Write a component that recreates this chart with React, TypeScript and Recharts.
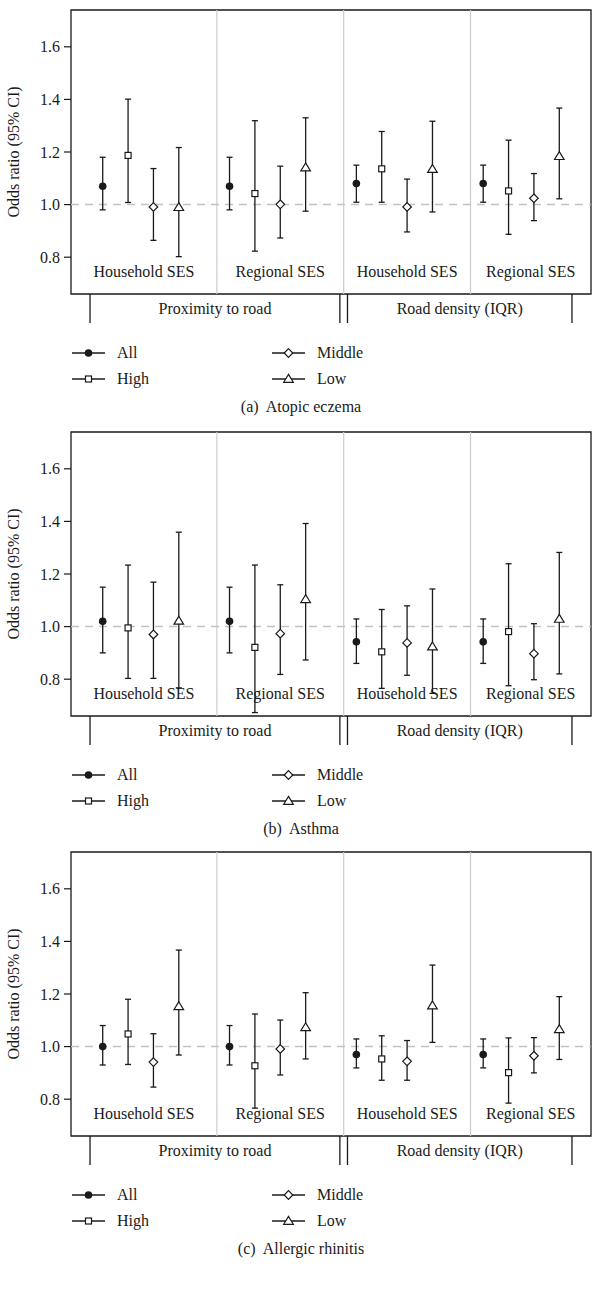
import React from "react";
import {
  ComposedChart,
  Scatter,
  ErrorBar,
  XAxis,
  YAxis,
  ReferenceLine,
  ReferenceArea,
} from "recharts";

const FONT = "'Liberation Serif', 'DejaVu Serif', serif";
const INK = "#1a1a1a";

const seriesNames = ["All", "High", "Middle", "Low"];
const groupLabels = ["Household SES", "Regional SES", "Household SES", "Regional SES"];
const exposureLabels = ["Proximity to road", "Road density (IQR)"];
const yTicks = [0.8, 1.0, 1.2, 1.4, 1.6];
const captions = ["(a)  Atopic eczema", "(b)  Asthma", "(c)  Allergic rhinitis"];

// values ordered group by group, series All / High / Middle / Low inside each group
const eczemaOR = [1.07, 1.187, 0.991, 0.99, 1.07, 1.042, 1.001, 1.141, 1.08, 1.136, 0.991, 1.135, 1.08, 1.052, 1.024, 1.184];
const eczemaLower = [0.98, 1.008, 0.864, 0.802, 0.98, 0.823, 0.873, 0.975, 1.009, 1.009, 0.896, 0.972, 1.009, 0.887, 0.939, 1.022];
const eczemaUpper = [1.18, 1.401, 1.137, 1.217, 1.18, 1.319, 1.146, 1.33, 1.15, 1.278, 1.097, 1.317, 1.15, 1.245, 1.118, 1.367];

const asthmaOR = [1.02, 0.995, 0.97, 1.022, 1.02, 0.921, 0.973, 1.104, 0.942, 0.904, 0.938, 0.924, 0.942, 0.981, 0.897, 1.029];
const asthmaLower = [0.9, 0.803, 0.803, 0.767, 0.9, 0.673, 0.818, 0.873, 0.86, 0.765, 0.815, 0.746, 0.86, 0.775, 0.798, 0.82];
const asthmaUpper = [1.15, 1.234, 1.169, 1.359, 1.15, 1.234, 1.159, 1.392, 1.029, 1.065, 1.079, 1.143, 1.029, 1.239, 1.011, 1.282];

const rhinitisOR = [1.0, 1.048, 0.941, 1.153, 1.0, 0.927, 0.991, 1.073, 0.97, 0.953, 0.944, 1.156, 0.97, 0.901, 0.965, 1.066];
const rhinitisLower = [0.93, 0.932, 0.846, 0.968, 0.93, 0.766, 0.892, 0.953, 0.919, 0.872, 0.872, 1.016, 0.919, 0.785, 0.9, 0.951];
const rhinitisUpper = [1.08, 1.18, 1.049, 1.367, 1.08, 1.124, 1.101, 1.205, 1.029, 1.041, 1.023, 1.31, 1.029, 1.033, 1.034, 1.19];

const panelData = [
  [eczemaOR, eczemaLower, eczemaUpper],
  [asthmaOR, asthmaLower, asthmaUpper],
  [rhinitisOR, rhinitisLower, rhinitisUpper],
];

// layout
const panelTops = [0, 422, 842];
const X_DOMAIN: [number, number] = [-0.25, 20.25];
const Y_DOMAIN: [number, number] = [0.66, 1.74];
const separators = [5.5, 10.5, 15.5];
const bracketTicks = [0.5, 10.35, 10.65, 19.5];
const exposureTicks = [(bracketTicks[0] + bracketTicks[1]) / 2, (bracketTicks[2] + bracketTicks[3]) / 2];

function buildSeries(or: number[], lower: number[], upper: number[]) {
  return seriesNames.map((name, s) => ({
    name,
    data: groupLabels.map((_, g) => {
      const i = g * 4 + s;
      return { x: g * 5 + s + 1, y: or[i], err: [or[i] - lower[i], upper[i] - or[i]] };
    }),
  }));
}

function Marker({ kind, cx, cy }: { kind: string; cx: number; cy: number }) {
  if (kind === "All") return <circle cx={cx} cy={cy} r={3.8} fill={INK} />;
  if (kind === "High")
    return <rect x={cx - 3} y={cy - 3} width={6} height={6} fill="#fff" stroke={INK} strokeWidth={1.2} />;
  if (kind === "Middle")
    return (
      <polygon
        points={`${cx},${cy - 4.3} ${cx + 4.3},${cy} ${cx},${cy + 4.3} ${cx - 4.3},${cy}`}
        fill="#fff"
        stroke={INK}
        strokeWidth={1.2}
      />
    );
  return (
    <polygon
      points={`${cx},${cy - 4.6} ${cx + 4.8},${cy + 3.3} ${cx - 4.8},${cy + 3.3}`}
      fill="#fff"
      stroke={INK}
      strokeWidth={1.2}
    />
  );
}

const renderBottomTick = (props: any) => {
  const { x, y, payload } = props;
  const v = payload.value;
  if (bracketTicks.includes(v)) {
    return <line x1={x} x2={x} y1={y} y2={y + 29} stroke={INK} strokeWidth={1.3} />;
  }
  const li = exposureTicks.indexOf(v);
  return (
    <text x={x} y={y + 16} textAnchor="middle" dominantBaseline="middle" fill={INK} fontSize={16} fontFamily={FONT}>
      {exposureLabels[li]}
    </text>
  );
};

function Panel({ index }: { index: number }) {
  const [or, lower, upper] = panelData[index];
  const series = buildSeries(or, lower, upper);
  const sections = [X_DOMAIN[0], ...separators, X_DOMAIN[1]];

  return (
    <div style={{ position: "absolute", left: 0, top: panelTops[index], width: 602, height: 420 }}>
      <ComposedChart width={602} height={330} margin={{ top: 10, right: 11, bottom: 0, left: 0 }}>
        <XAxis
          type="number"
          dataKey="x"
          domain={X_DOMAIN}
          allowDataOverflow
          ticks={[...bracketTicks, ...exposureTicks].sort((a, b) => a - b)}
          interval={0}
          height={36}
          axisLine={false}
          tickLine={false}
          tickSize={0}
          tickMargin={0}
          tick={renderBottomTick}
        />
        <YAxis
          type="number"
          dataKey="y"
          domain={Y_DOMAIN}
          allowDataOverflow
          ticks={yTicks}
          interval={0}
          tickFormatter={(v: number) => v.toFixed(1)}
          width={71}
          tickSize={7}
          tickMargin={4}
          axisLine={false}
          tickLine={{ stroke: INK, strokeWidth: 1.2 }}
          tick={{ fill: INK, fontSize: 16, fontFamily: FONT }}
          label={{
            value: "Odds ratio (95% CI)",
            angle: -90,
            position: "insideLeft",
            offset: 13,
            style: { textAnchor: "middle", fill: INK, fontSize: 16, fontFamily: FONT },
          }}
        />
        {separators.map((s) => (
          <ReferenceLine key={s} x={s} stroke="#cccccc" strokeWidth={1.2} />
        ))}
        <ReferenceLine y={1} stroke="#c2c2c2" strokeWidth={1.5} strokeDasharray="8 6" />
        {groupLabels.map((label, g) => (
          <ReferenceArea
            key={g}
            x1={sections[g]}
            x2={sections[g + 1]}
            y1={Y_DOMAIN[0]}
            y2={0.83}
            fill="none"
            stroke="none"
            label={{ value: label, position: "center", fill: INK, fontSize: 16, fontFamily: FONT }}
          />
        ))}
        <ReferenceArea
          x1={X_DOMAIN[0]}
          x2={X_DOMAIN[1]}
          y1={Y_DOMAIN[0]}
          y2={Y_DOMAIN[1]}
          fill="none"
          stroke={INK}
          strokeWidth={1.3}
        />
        {series.map((s) => (
          <Scatter
            key={s.name}
            name={s.name}
            data={s.data}
            isAnimationActive={false}
            shape={(p: any) => <Marker kind={s.name} cx={p.cx} cy={p.cy} />}
          >
            <ErrorBar dataKey="err" direction="y" width={3} stroke={INK} strokeWidth={1.3} />
          </Scatter>
        ))}
      </ComposedChart>
      {seriesNames.map((name, i) => {
        const col = Math.floor(i / 2);
        const row = i % 2;
        return (
          <div
            key={name}
            style={{
              position: "absolute",
              left: [72, 272][col],
              top: [353, 379][row] - 10,
              height: 20,
              display: "flex",
              alignItems: "center",
              fontFamily: FONT,
              fontSize: 16,
              color: INK,
            }}
          >
            <svg width={34} height={20}>
              <line x1={0} x2={33} y1={10} y2={10} stroke={INK} strokeWidth={1.3} />
              <Marker kind={name} cx={16.5} cy={10} />
            </svg>
            <span style={{ marginLeft: 11 }}>{name}</span>
          </div>
        );
      })}
      <div
        style={{
          position: "absolute",
          left: 0,
          width: 602,
          top: 397,
          height: 20,
          lineHeight: "20px",
          textAlign: "center",
          whiteSpace: "pre",
          fontFamily: FONT,
          fontSize: 16,
          color: INK,
        }}
      >
        {captions[index]}
      </div>
    </div>
  );
}

export default function App() {
  return (
    <div style={{ position: "absolute", left: 0, top: 0, width: 602, height: 1290, background: "#fff" }}>
      {panelData.map((_, i) => (
        <Panel key={i} index={i} />
      ))}
    </div>
  );
}
